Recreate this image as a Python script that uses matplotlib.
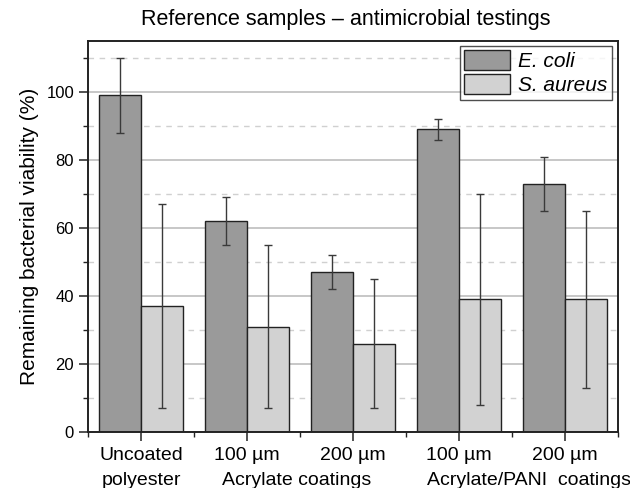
import numpy as np
import matplotlib
matplotlib.use("Agg")
import matplotlib.pyplot as plt
from matplotlib.ticker import MultipleLocator
import matplotlib.transforms as mtransforms

plt.rcParams['font.family'] = ['Liberation Sans', 'DejaVu Sans']

categories = ["Uncoated", "100 \u00b5m", "200 \u00b5m", "100 \u00b5m", "200 \u00b5m"]
ecoli = [99, 62, 47, 89, 73]
ecoli_lo = [88, 55, 42, 86, 65]
ecoli_hi = [110, 69, 52, 92, 81]
saureus = [37, 31, 26, 39, 39]
saureus_lo = [7, 7, 7, 8, 13]
saureus_hi = [67, 55, 45, 70, 65]
second_line = ["polyester", "Acrylate coatings", "Acrylate/PANI  coatings"]
second_x = [1.0, 1.76, 3.70]
second_ha = ['center', 'left', 'left']

fig = plt.figure(figsize=(6.3, 4.88), dpi=100)
ax = fig.add_axes([88 / 630, 1 - 432 / 488, (618 - 88) / 630, (432 - 41) / 488])

x = np.arange(1, len(categories) + 1)
w = 0.4
e1 = [np.array(ecoli) - np.array(ecoli_lo), np.array(ecoli_hi) - np.array(ecoli)]
e2 = [np.array(saureus) - np.array(saureus_lo), np.array(saureus_hi) - np.array(saureus)]

ax.bar(x - w / 2, ecoli, w, color='#9a9a9a', edgecolor='#222222', linewidth=1.0,
       label='E. coli', zorder=2)
ax.bar(x + w / 2, saureus, w, color='#d2d2d2', edgecolor='#222222', linewidth=1.0,
       label='S. aureus', zorder=2)
ax.errorbar(x - w / 2, ecoli, yerr=e1, fmt='none', ecolor='#3a3a3a', elinewidth=1.0,
            capsize=3.2, capthick=1.0, zorder=3)
ax.errorbar(x + w / 2, saureus, yerr=e2, fmt='none', ecolor='#3a3a3a', elinewidth=1.0,
            capsize=3.2, capthick=1.0, zorder=3)

ax.set_xlim(0.5, 5.5)
ax.set_ylim(0, 115)
ax.set_xticks(x)
ax.set_xticklabels(categories, fontsize=14)
ax.set_xticks(np.arange(0.5, 6, 1), minor=True)
ax.set_yticks(np.arange(0, 101, 20))
ax.yaxis.set_minor_locator(MultipleLocator(10))
ax.tick_params(axis='y', labelsize=12)
ax.tick_params(axis='x', pad=4)
ax.tick_params(which='major', direction='out', length=6.5, width=1.1, color='#222222')
ax.tick_params(which='minor', direction='out', length=3.6, width=1.0, color='#222222')

ax.grid(axis='y', which='major', color='#bdbdbd', linewidth=1.2, zorder=0)
ax.grid(axis='y', which='minor', color='#d0d0d0', linewidth=1.0, linestyle=(0, (4, 4)), zorder=0)
ax.set_axisbelow(True)

for s in ax.spines.values():
    s.set_linewidth(1.4)
    s.set_color('#222222')

ax.set_ylabel('Remaining bacterial viability (%)', fontsize=15, labelpad=5)
fig.text(346 / 630, 1 - 20 / 488, 'Reference samples \u2013 antimicrobial testings',
         fontsize=15.5, ha='center', va='center')

trans = mtransforms.blended_transform_factory(ax.transData, fig.transFigure)
for sx, sl, sh in zip(second_x, second_line, second_ha):
    ax.text(sx, 1 - 485 / 488, sl, transform=trans, ha=sh, va='baseline', fontsize=14)

leg = ax.legend(loc='upper right', bbox_to_anchor=(612 / 630, 1 - 46 / 488),
                bbox_transform=fig.transFigure, fontsize=15, frameon=True,
                fancybox=False, borderpad=0.2, handlelength=2.2, handleheight=1.1,
                handletextpad=0.4, labelspacing=0.15, borderaxespad=0)
leg.get_frame().set_edgecolor('#222222')
leg.get_frame().set_linewidth(1.0)
for t in leg.get_texts():
    t.set_fontstyle('italic')

fig.savefig('out.png', dpi=100)
